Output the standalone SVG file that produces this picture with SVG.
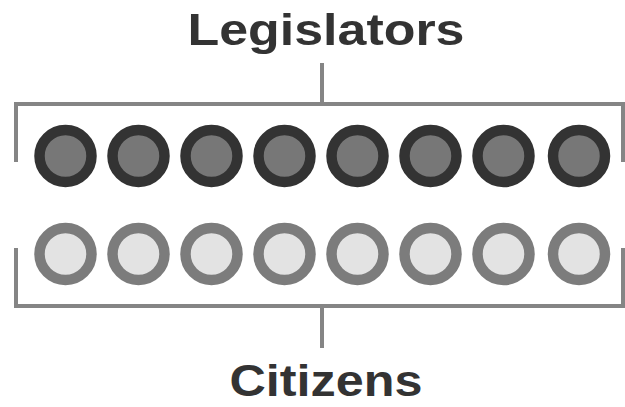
<svg xmlns="http://www.w3.org/2000/svg" width="625" height="407" viewBox="0 0 625 407">
<style>
.lbl{font-family:"Liberation Sans",Arial,sans-serif;font-weight:bold;font-size:45px;fill:#333;text-anchor:middle}
.br{fill:none;stroke:#858585;stroke-width:4}
.leg{fill:#777;stroke:#333;stroke-width:10.5}
.cit{fill:#e3e3e3;stroke:#7c7c7c;stroke-width:10.5}
</style>
<rect width="625" height="407" fill="#fff"/>
<g id="legislators-label"><text class="lbl" x="326" y="45" textLength="277" lengthAdjust="spacingAndGlyphs">Legislators</text></g>
<g id="citizens-label"><text class="lbl" x="326" y="396" textLength="193" lengthAdjust="spacingAndGlyphs">Citizens</text></g>
<g id="connectors">
<path class="br" d="M322 63V104M16 162V104H623V162"/>
<path class="br" d="M322 348V306M16 248V306H623V248"/>
</g>
<g id="legislators">
<circle class="leg" cx="65.5" cy="156" r="26"/>
<circle class="leg" cx="138.5" cy="156" r="26"/>
<circle class="leg" cx="211.5" cy="156" r="26"/>
<circle class="leg" cx="284.5" cy="156" r="26"/>
<circle class="leg" cx="357.5" cy="156" r="26"/>
<circle class="leg" cx="430.5" cy="156" r="26"/>
<circle class="leg" cx="503.5" cy="156" r="26"/>
<circle class="leg" cx="579" cy="156" r="26"/>
</g>
<g id="citizens">
<circle class="cit" cx="65.5" cy="254" r="26"/>
<circle class="cit" cx="138.5" cy="254" r="26"/>
<circle class="cit" cx="211.5" cy="254" r="26"/>
<circle class="cit" cx="284.5" cy="254" r="26"/>
<circle class="cit" cx="357.5" cy="254" r="26"/>
<circle class="cit" cx="430.5" cy="254" r="26"/>
<circle class="cit" cx="503.5" cy="254" r="26"/>
<circle class="cit" cx="579" cy="254" r="26"/>
</g>
</svg>
